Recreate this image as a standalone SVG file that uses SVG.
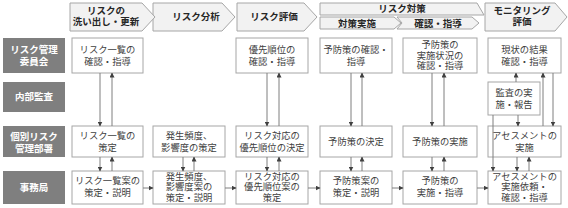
<svg xmlns="http://www.w3.org/2000/svg" width="568" height="208" viewBox="0 0 568 208">
<style>
.hd{fill:#f2f2f2;stroke:#a6a6a6;stroke-width:1}
.ht{font-family:"Noto Sans CJK JP",sans-serif;font-size:9.5px;font-weight:bold;fill:#262626;text-anchor:middle}
.lb{fill:#7f7f7f}
.lt{font-family:"Noto Sans CJK JP",sans-serif;font-size:9.5px;font-weight:bold;fill:#ffffff;text-anchor:middle}
.bx{fill:#ffffff;stroke:#a6a6a6;stroke-width:1}
.bt{font-family:"Noto Sans CJK JP",sans-serif;font-size:9.3px;fill:#404040;text-anchor:middle}
.cn line{stroke:#7f7f7f;stroke-width:1;fill:none}
</style>
<defs>
<marker id="ah" markerWidth="5" markerHeight="5" refX="4.5" refY="2.5" orient="auto" markerUnits="userSpaceOnUse">
<path d="M0,0 L5,2.5 L0,5 z" fill="#404040"/>
</marker>
</defs>
<rect width="568" height="208" fill="#ffffff"/>

<g id="headers">
<polygon class="hd" points="485,3 555,3 567,17 555,31 485,31"/>
<polygon class="hd" points="320,3 477,3 484,15 320,15"/>
<polygon class="hd" points="397,17 472,17 479,23 472,29 397,29 402,23"/>
<polygon class="hd" points="320,17 394,17 401,23 394,29 320,29"/>
<polygon class="hd" points="237,3 304,3 317,17 304,31 237,31"/>
<polygon class="hd" points="153,3 222,3 235,17 222,31 153,31"/>
<polygon class="hd" points="70,3 142,3 155,17 142,31 70,31"/>
<text class="ht" x="106" y="14">リスクの</text>
<text class="ht" x="106" y="25">洗い出し・更新</text>
<text class="ht" x="196" y="20">リスク分析</text>
<text class="ht" x="274" y="20">リスク評価</text>
<text class="ht" x="402" y="12">リスク対策</text>
<text class="ht" x="357" y="27">対策実施</text>
<text class="ht" x="438" y="27">確認・指導</text>
<text class="ht" x="522" y="14">モニタリング</text>
<text class="ht" x="522" y="25">評価</text>
</g>

<g id="label-committee"><rect class="lb" x="3" y="38" width="62" height="35"/><text class="lt" x="34" y="53">リスク管理</text><text class="lt" x="34" y="65">委員会</text></g>
<g id="label-audit"><rect class="lb" x="3" y="82" width="62" height="30"/><text class="lt" x="34" y="100">内部監査</text></g>
<g id="label-dept"><rect class="lb" x="3" y="126" width="62" height="31"/><text class="lt" x="34" y="140">個別リスク</text><text class="lt" x="34" y="152">管理部署</text></g>
<g id="label-office"><rect class="lb" x="3" y="171" width="62" height="33"/><text class="lt" x="34" y="191">事務局</text></g>

<g id="r1c1"><rect class="bx" x="72" y="38" width="71" height="35"/><text class="bt" x="107.5" y="53">リスク一覧の</text><text class="bt" x="107.5" y="65">確認・指導</text></g>
<g id="r1c3"><rect class="bx" x="236" y="38" width="72" height="35"/><text class="bt" x="272" y="53">優先順位の</text><text class="bt" x="272" y="65">確認・指導</text></g>
<g id="r1c4"><rect class="bx" x="320" y="38" width="72" height="35"/><text class="bt" x="356" y="53">予防策の確認・</text><text class="bt" x="356" y="65">指導</text></g>
<g id="r1c5"><rect class="bx" x="403" y="38" width="74" height="35"/><text class="bt" x="440" y="48">予防策の</text><text class="bt" x="440" y="58.5">実施状況の</text><text class="bt" x="440" y="69">確認・指導</text></g>
<g id="r1c6"><rect class="bx" x="488" y="38" width="73" height="35"/><text class="bt" x="524.5" y="53">現状の結果</text><text class="bt" x="524.5" y="65">確認・指導</text></g>

<g id="r2c6"><rect class="bx" x="488" y="82" width="52" height="33"/><text class="bt" x="514" y="96">監査の実</text><text class="bt" x="514" y="108">施・報告</text></g>

<g id="r3c1"><rect class="bx" x="72" y="126" width="71" height="31"/><text class="bt" x="107.5" y="139">リスク一覧の</text><text class="bt" x="107.5" y="151">策定</text></g>
<g id="r3c2"><rect class="bx" x="153" y="126" width="72" height="31"/><text class="bt" x="189" y="139">発生頻度、</text><text class="bt" x="189" y="151">影響度の策定</text></g>
<g id="r3c3"><rect class="bx" x="236" y="126" width="72" height="31"/><text class="bt" x="272" y="139">リスク対応の</text><text class="bt" x="272" y="151">優先順位の決定</text></g>
<g id="r3c4"><rect class="bx" x="320" y="126" width="72" height="31"/><text class="bt" x="356" y="145">予防策の決定</text></g>
<g id="r3c5"><rect class="bx" x="403" y="126" width="74" height="31"/><text class="bt" x="440" y="145">予防策の実施</text></g>
<g id="r3c6"><rect class="bx" x="488" y="126" width="73" height="31"/><text class="bt" x="524.5" y="139">アセスメントの</text><text class="bt" x="524.5" y="151">実施</text></g>

<g id="r4c1"><rect class="bx" x="72" y="171" width="71" height="33"/><text class="bt" x="107.5" y="184">リスク一覧案の</text><text class="bt" x="107.5" y="196">策定・説明</text></g>
<g id="r4c2"><rect class="bx" x="153" y="171" width="72" height="33"/><text class="bt" x="189" y="179.5">発生頻度、</text><text class="bt" x="189" y="190">影響度案の</text><text class="bt" x="189" y="200.5">策定・説明</text></g>
<g id="r4c3"><rect class="bx" x="236" y="171" width="72" height="33"/><text class="bt" x="272" y="179.5">リスク対応の</text><text class="bt" x="272" y="190">優先順位案の</text><text class="bt" x="272" y="200.5">策定</text></g>
<g id="r4c4"><rect class="bx" x="320" y="171" width="72" height="33"/><text class="bt" x="356" y="184">予防策案の</text><text class="bt" x="356" y="196">策定・説明</text></g>
<g id="r4c5"><rect class="bx" x="403" y="171" width="74" height="33"/><text class="bt" x="440" y="184">予防策の</text><text class="bt" x="440" y="196">実施・指導</text></g>
<g id="r4c6"><rect class="bx" x="488" y="171" width="73" height="33"/><text class="bt" x="524.5" y="179.5">アセスメントの</text><text class="bt" x="524.5" y="190">実施依頼・</text><text class="bt" x="524.5" y="200.5">確認・指導</text></g>

<g class="cn" id="connectors">
<line x1="100" y1="73" x2="100" y2="126" marker-end="url(#ah)"/>
<line x1="112" y1="126" x2="112" y2="73" marker-end="url(#ah)"/>
<line x1="267" y1="73" x2="267" y2="126" marker-end="url(#ah)"/>
<line x1="279" y1="126" x2="279" y2="73" marker-end="url(#ah)"/>
<line x1="351" y1="73" x2="351" y2="126" marker-end="url(#ah)"/>
<line x1="362" y1="126" x2="362" y2="73" marker-end="url(#ah)"/>
<line x1="432" y1="73" x2="432" y2="126" marker-end="url(#ah)"/>
<line x1="444" y1="126" x2="444" y2="73" marker-end="url(#ah)"/>
<line x1="516" y1="82" x2="516" y2="73" marker-end="url(#ah)"/>
<line x1="518" y1="115" x2="518" y2="126" marker-end="url(#ah)"/>
<line x1="543" y1="126" x2="543" y2="73" marker-end="url(#ah)"/>
<line x1="553" y1="73" x2="553" y2="126" marker-end="url(#ah)"/>
<line x1="493" y1="115" x2="493" y2="171" marker-end="url(#ah)"/>
<line x1="100" y1="157" x2="100" y2="171" marker-end="url(#ah)"/>
<line x1="112" y1="171" x2="112" y2="157" marker-end="url(#ah)"/>
<line x1="183" y1="157" x2="183" y2="171" marker-end="url(#ah)"/>
<line x1="194" y1="171" x2="194" y2="157" marker-end="url(#ah)"/>
<line x1="267" y1="157" x2="267" y2="171" marker-end="url(#ah)"/>
<line x1="279" y1="171" x2="279" y2="157" marker-end="url(#ah)"/>
<line x1="351" y1="157" x2="351" y2="171" marker-end="url(#ah)"/>
<line x1="362" y1="171" x2="362" y2="157" marker-end="url(#ah)"/>
<line x1="432" y1="157" x2="432" y2="171" marker-end="url(#ah)"/>
<line x1="444" y1="171" x2="444" y2="157" marker-end="url(#ah)"/>
<line x1="517" y1="157" x2="517" y2="171" marker-end="url(#ah)"/>
<line x1="529" y1="171" x2="529" y2="157" marker-end="url(#ah)"/>
<line x1="143" y1="188" x2="153" y2="188" marker-end="url(#ah)"/>
<line x1="225" y1="188" x2="236" y2="188" marker-end="url(#ah)"/>
<line x1="308" y1="188" x2="320" y2="188" marker-end="url(#ah)"/>
<line x1="392" y1="188" x2="403" y2="188" marker-end="url(#ah)"/>
<line x1="477" y1="188" x2="488" y2="188" marker-end="url(#ah)"/>
</g>
</svg>
